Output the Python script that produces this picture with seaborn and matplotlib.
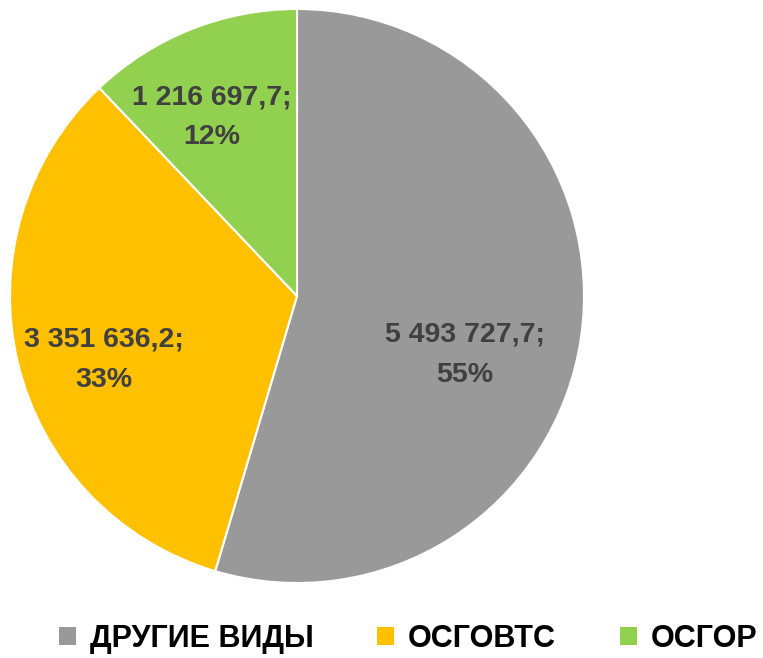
import matplotlib
matplotlib.use("Agg")
import matplotlib.pyplot as plt
import seaborn as sns
import numpy as np

categories = ["ДРУГИЕ ВИДЫ", "ОСГОВТС", "ОСГОР"]
values = [5493727.7, 3351636.2, 1216697.7]
value_labels = ["5 493 727,7;", "3 351 636,2;", "1 216 697,7;"]
pct_labels = ["55%", "33%", "12%"]
colors = ["#999999", "#FFC000", "#92D050"]

sns.set_theme(style="white")
plt.rcParams['font.family'] = ['Liberation Sans', 'DejaVu Sans']

fig = plt.figure(figsize=(7.63, 6.58), dpi=100)
ax = fig.add_axes([10/763, 75/658, 574/763, 574/658])

wedges, _ = ax.pie(values, colors=colors, startangle=90, counterclock=False,
                   radius=1.0, wedgeprops=dict(edgecolor="white", linewidth=1.5))
ax.set_xlim(-1, 1)
ax.set_ylim(-1, 1)
ax.set_aspect("equal")
ax.axis("off")

# label placement (radius, angle offset in degrees) per slice
label_pos = [(0.62, -11.0), (0.71, 4.8), (0.69, 3.8)]
for w, vl, pl, (r, off) in zip(wedges, value_labels, pct_labels, label_pos):
    mid = np.deg2rad((w.theta1 + w.theta2) / 2 + off)
    x, y = r * np.cos(mid), r * np.sin(mid)
    ax.text(x, y, f"{vl}\n{pl}", ha="center", va="center", fontsize=20.5,
            fontweight="bold", color="#404040", linespacing=1.7)

leg = fig.legend(wedges, categories, loc="lower center", bbox_to_anchor=(0.535, -0.035),
                 ncol=3, frameon=False, fontsize=22, handlelength=0.55, handleheight=0.55,
                 handletextpad=0.45, columnspacing=2.1)
for t in leg.get_texts():
    t.set_fontweight("bold")
    t.set_color("black")
for h in leg.legend_handles:
    h.set_edgecolor("none")

fig.savefig("out.png", dpi=100, facecolor="white")
